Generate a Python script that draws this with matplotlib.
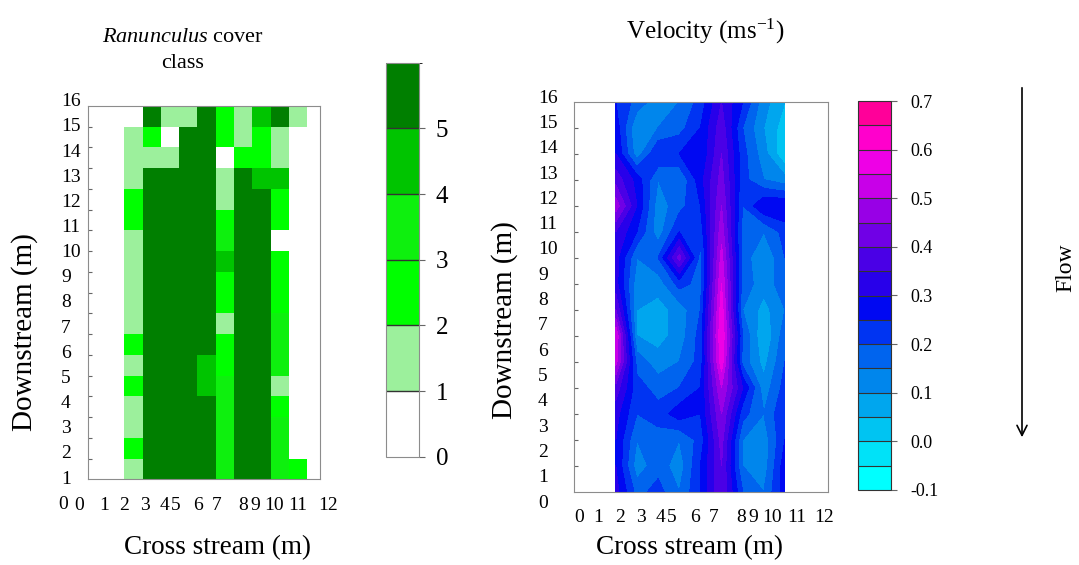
import numpy as np
import matplotlib
matplotlib.use("Agg")
from matplotlib import pyplot as plt
from matplotlib.colors import ListedColormap, BoundaryNorm

plt.rcParams['font.family'] = ['Liberation Serif', 'DejaVu Serif']
plt.rcParams['mathtext.fontset'] = 'custom'
plt.rcParams['mathtext.rm'] = 'Liberation Serif'
plt.rcParams['mathtext.it'] = 'Liberation Serif:italic'

W, H = 1079, 565

# cover class per cell, rows from upstream (top) to downstream, columns 2..11 m
cover_cols = [2, 3, 4, 5, 6, 7, 8, 9, 10, 11]
cover = [
    [0, 5, 1, 1, 5, 2, 1, 4, 5, 1],
    [1, 2, 0, 5, 5, 2, 1, 2, 1, 0],
    [1, 1, 1, 5, 5, 0, 2, 2, 1, 0],
    [1, 5, 5, 5, 5, 1, 5, 4, 4, 0],
    [2, 5, 5, 5, 5, 1, 5, 5, 2, 0],
    [2, 5, 5, 5, 5, 2, 5, 5, 2, 0],
    [1, 5, 5, 5, 5, 3, 5, 5, 0, 0],
    [1, 5, 5, 5, 5, 4, 5, 5, 2, 0],
    [1, 5, 5, 5, 5, 2, 5, 5, 2, 0],
    [1, 5, 5, 5, 5, 2, 5, 5, 2, 0],
    [1, 5, 5, 5, 5, 1, 5, 5, 3, 0],
    [2, 5, 5, 5, 5, 2, 5, 5, 3, 0],
    [1, 5, 5, 5, 4, 2, 5, 5, 3, 0],
    [2, 5, 5, 5, 4, 3, 5, 5, 1, 0],
    [1, 5, 5, 5, 5, 3, 5, 5, 2, 0],
    [1, 5, 5, 5, 5, 3, 5, 5, 3, 0],
    [2, 5, 5, 5, 5, 3, 5, 5, 3, 0],
    [1, 5, 5, 5, 5, 3, 5, 5, 3, 2],
]
cover_classes = [0, 1, 2, 3, 4, 5, 6]
cover_colors = ['#ffffff', '#9cf09c', '#00ff00', '#0ef00e', '#00c400', '#007f00']

# velocity (m/s), rows y = 16 .. 1, columns x = 2 .. 10 m
vel_x = [2, 3, 4, 5, 6, 7, 8, 9, 10]
vel_y = [16, 15, 14, 13, 12, 11, 10, 9, 8, 7, 6, 5, 4, 3, 2, 1]
velocity = [
    [0.25, 0.18, 0.12, 0.15, 0.22, 0.35, 0.25, 0.12, 0.05],
    [0.28, 0.10, 0.15, 0.18, 0.25, 0.38, 0.20, 0.10, 0.02],
    [0.30, 0.12, 0.25, 0.25, 0.25, 0.40, 0.22, 0.12, 0.00],
    [0.38, 0.28, 0.15, 0.15, 0.28, 0.42, 0.22, 0.15, 0.12],
    [0.48, 0.30, 0.12, 0.18, 0.25, 0.45, 0.20, 0.30, 0.30],
    [0.35, 0.25, 0.12, 0.25, 0.22, 0.48, 0.18, 0.15, 0.22],
    [0.32, 0.15, 0.20, 0.42, 0.18, 0.52, 0.18, 0.10, 0.20],
    [0.32, 0.12, 0.12, 0.22, 0.18, 0.55, 0.18, 0.12, 0.18],
    [0.40, 0.10, 0.08, 0.12, 0.20, 0.58, 0.15, 0.08, 0.15],
    [0.55, 0.10, 0.08, 0.12, 0.22, 0.60, 0.20, 0.05, 0.18],
    [0.52, 0.18, 0.12, 0.15, 0.22, 0.58, 0.18, 0.08, 0.20],
    [0.38, 0.22, 0.18, 0.20, 0.25, 0.50, 0.30, 0.12, 0.22],
    [0.32, 0.20, 0.22, 0.28, 0.25, 0.45, 0.22, 0.15, 0.25],
    [0.30, 0.15, 0.18, 0.15, 0.22, 0.42, 0.15, 0.12, 0.25],
    [0.30, 0.12, 0.18, 0.12, 0.25, 0.40, 0.15, 0.12, 0.28],
    [0.32, 0.18, 0.22, 0.15, 0.25, 0.40, 0.20, 0.15, 0.28],
]
vel_levels = np.linspace(-0.1, 0.7, 17)
vel_colors = ['#00ffff', '#00e2f8', '#00c4f2', '#00a6ee', '#0086ec', '#0064ee',
              '#0034f2', '#0008f2', '#2800ea', '#4a00e6', '#7000e6', '#9800e6',
              '#c800e8', '#ee00e6', '#ff00cc', '#ff0099']
vel_ticks = [-0.1, 0.0, 0.1, 0.2, 0.3, 0.4, 0.5, 0.6, 0.7]

# odd, hand-placed axis labels of the original (pixel centres)
tick_text = [str(i) for i in range(13)]
left_xlab_px = [79, 104, 124, 145, 164, 176, 198, 217, 243, 255, 274, 298, 328]
right_xlab_px = [579, 598, 620, 641, 660, 672, 695, 714, 741, 753, 772, 797, 824]


def box(x0, y0, x1, y1):
    return [x0 / W, 1 - y1 / H, (x1 - x0) / W, (y1 - y0) / H]


def ftext(x, y, s, **kw):
    return fig.text(x / W, 1 - y / H, s, **kw)


fig = plt.figure(figsize=(W / 100, H / 100), dpi=100)
frame = '#8c8c8c'

# ---- left: Ranunculus cover ----
ax1 = fig.add_axes(box(87.7, 106, 320, 479.3))
cmap1 = ListedColormap(cover_colors)
norm1 = BoundaryNorm(cover_classes, cmap1.N)
xe = list(cover_cols) + [cover_cols[-1] + 1]
ye = np.arange(len(cover) + 1)[::-1]
mesh = ax1.pcolormesh(xe, ye, np.array(cover), cmap=cmap1, norm=norm1)
ax1.set_xlim(0, 12.7)
ax1.set_ylim(0, len(cover))
ax1.set_xticks([])
ax1.set_yticks(np.arange(1, len(cover)))
ax1.set_yticklabels([])
ax1.tick_params(axis='y', direction='in', length=3, color='#666666')
for s in ax1.spines.values():
    s.set_color(frame)

cax1 = fig.add_axes(box(386, 62.7, 419, 456.7))
cb1 = fig.colorbar(mesh, cax=cax1, ticks=[0, 1, 2, 3, 4, 5], drawedges=True)
cb1.outline.set_edgecolor(frame)
cb1.dividers.set_color('#333333')
cb1.dividers.set_linewidth(1.0)
cax1.tick_params(length=4, color='#666666', labelsize=18, pad=8)

ftext(183, 38, r'$\mathit{Ranunculus}$ cover', ha='center', va='center', fontsize=16)
ftext(183, 63, 'class', ha='center', va='center', fontsize=16)
ftext(25, 332, 'Downstream (m)', rotation=90, ha='center', va='center', fontsize=21)
ftext(217, 548, 'Cross stream (m)', ha='center', va='center', fontsize=19.5)

for k in range(17):
    x0 = 58 if k == 0 else 61
    ftext(x0, 479 - (k - 1) * 25.15, str(k), ha='left', va='center', fontsize=14)
for px, s in zip(left_xlab_px, tick_text):
    ftext(px, 505, s, ha='center', va='center', fontsize=14)

# ---- right: velocity ----
ax2 = fig.add_axes(box(573.5, 101.7, 828.3, 491.7))
cs = ax2.contourf(vel_x, vel_y, np.array(velocity), levels=vel_levels,
                  colors=vel_colors)
ax2.set_xlim(0, 12.05)
ax2.set_ylim(1, 16)
ax2.set_xticks([])
ax2.set_yticks(np.arange(2, 16))
ax2.set_yticklabels([])
ax2.tick_params(axis='y', direction='in', length=3, color='#666666')
for s in ax2.spines.values():
    s.set_color(frame)

cax2 = fig.add_axes(box(858, 101, 891, 490))
cb2 = fig.colorbar(cs, cax=cax2, ticks=vel_ticks, drawedges=True)
cb2.ax.set_yticklabels(['%.1f' % t for t in vel_ticks])
cb2.outline.set_edgecolor('#333333')
cb2.dividers.set_color('#333333')
cb2.dividers.set_linewidth(0.8)
cax2.tick_params(length=4, color='#666666', labelsize=13, pad=10)

ftext(705, 31, r'Velocity (ms$^{\mathrm{-1}}$)', ha='center', va='center', fontsize=18)
ftext(505, 320, 'Downstream (m)', rotation=90, ha='center', va='center', fontsize=21)
ftext(690, 548, 'Cross stream (m)', ha='center', va='center', fontsize=19.5)

for k in range(17):
    ftext(538, 503.3 - k * 25.33, str(k), ha='left', va='center', fontsize=14)
for px, s in zip(right_xlab_px, tick_text):
    ftext(px, 518, s, ha='center', va='center', fontsize=14)

# flow direction
fig.patches.append(matplotlib.patches.FancyArrowPatch(
    (1022 / W, 1 - 85 / H), (1022 / W, 1 - 440 / H), transform=fig.transFigure,
    arrowstyle='->', mutation_scale=18, lw=1.2, color='black'))
ftext(1066, 268, 'Flow', rotation=90, ha='center', va='center', fontsize=17)

fig.savefig('out.png', dpi=100)
